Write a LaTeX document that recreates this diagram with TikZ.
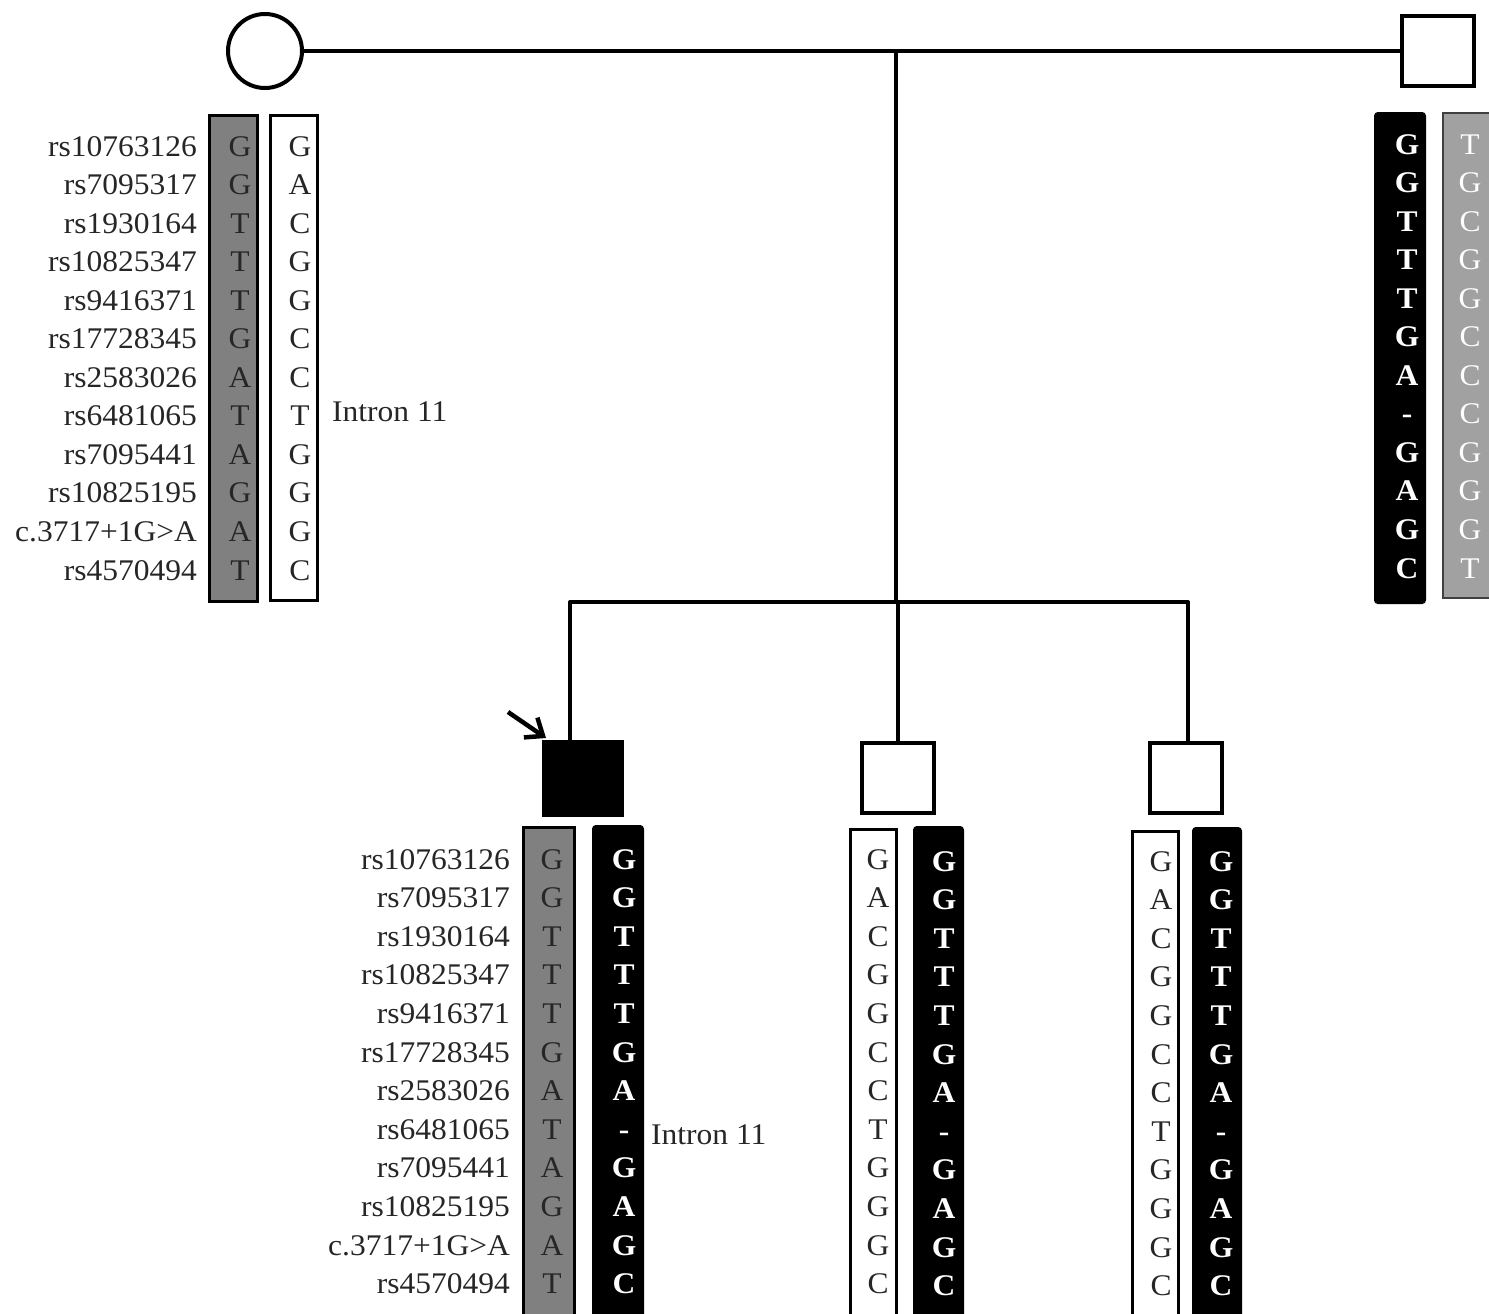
\documentclass[tikz,border=0pt]{standalone}
\usepackage{fontspec}
\setmainfont{Liberation Serif}[FakeStretch=1.05]
\usetikzlibrary{arrows.meta}
\begin{document}
\begin{tikzpicture}[x=1pt,y=-1pt,
  ln/.style={line width=3.5pt, line cap=round},
  person/.style={draw, line width=4pt, minimum width=72pt, minimum height=70pt, inner sep=0},
  lbl/.style={anchor=base east, font=\fontsize{30}{30}\selectfont, text=black!85, inner sep=0},
  let/.style={anchor=base, font=\fontsize{30}{30}\selectfont, text=black!85, inner sep=0},
  letw/.style={anchor=base, font=\fontsize{30}{30}\selectfont\bfseries, text=white, inner sep=0},
  letlw/.style={anchor=base, font=\fontsize{30}{30}\selectfont, text=white, inner sep=0},
  hbox/.style={line width=3pt, inner sep=0, anchor=north west}
]
\useasboundingbox (0,0) rectangle (1489,1314);
\fill[white] (0,0) rectangle (1489,1314);

% ---------- persons ----------
\node[person, circle, minimum size=74pt] (mo) at (265,51) {};
\node[person] (fa) at (1437.5,51) {};
\node[person, fill=black, minimum width=78pt, minimum height=73pt] (pr) at (582.5,778) {};
\node[person] (s2) at (897.5,777.5) {};
\node[person] (s3) at (1185.5,777.5) {};

\coordinate (mid) at (896,51);
\coordinate (sib) at (896,602);
\coordinate (lft) at (570,602);
\coordinate (rgt) at (1188,602);

\draw[ln] (mo.east) -- (fa.west);
\draw[ln] (mid) -- (sib);
\draw[ln] (lft) -- (rgt);
\draw[ln] (lft) -- (lft |- pr.north);
\draw[ln] (898,602) -- (s2.north -| 898,0);
\draw[ln] (rgt) -- (rgt |- s3.north);

% arrow to proband
\coordinate (arS) at (508,712);
\coordinate (arE) at (546,738);
\draw[line width=4.5pt, -{Straight Barb[length=15pt,width=24pt,line width=4.5pt]}] (arS) -- (arE);

% ---------- haplotype boxes ----------
% mother
\draw[hbox, fill=black!50] (209,115) rectangle (257,601);
\draw[hbox, fill=white] (270,115) rectangle (317,600);
% father
\draw[line width=2pt, fill=black, rounded corners=3pt] (1375,113) rectangle (1425,603);
\draw[line width=2pt, draw=black!75, fill=black!37] (1443,113) rectangle (1492,598);
% proband
\draw[hbox, fill=black!50] (523,827) rectangle (574,1320);
\draw[line width=2pt, fill=black, rounded corners=3pt] (593,826) rectangle (643,1320);
% sib2
\draw[hbox, fill=white] (850,829) rectangle (896,1320);
\draw[line width=2pt, fill=black, rounded corners=3pt] (914,827) rectangle (963,1320);
% sib3
\draw[hbox, fill=white] (1132,831) rectangle (1178,1320);
\draw[line width=2pt, fill=black, rounded corners=3pt] (1193,828) rectangle (1241,1320);

% ---------- labels ----------
\foreach \t [count=\i from 0] in {rs10763126,rs7095317,rs1930164,rs10825347,rs9416371,rs17728345,rs2583026,rs6481065,rs7095441,rs10825195,{c.3717+1G>A},rs4570494}{
  \node[lbl] (ml\i) at (197,145+38.55*\i+11) {\t};
  \node[lbl] (pl\i) at (510,858+38.6*\i+11) {\t};
}

% mother / proband first haplotype
\foreach \a [count=\i from 0] in {G,G,T,T,T,G,A,T,A,G,A,T}{
  \node[let] (ma\i) at (240,145+38.55*\i+11) {\a};
  \node[let] (pa\i) at (552,858+38.6*\i+11) {\a};
}
\foreach \a [count=\i from 0] in {G,A,C,G,G,C,C,T,G,G,G,C}{
  \node[let] (mb\i) at (300,145+38.55*\i+11) {\a};
  \node[let] (sa\i) at (878,858+38.6*\i+11) {\a};
  \node[let] (ta\i) at (1161,860+38.6*\i+11) {\a};
}
\foreach \a [count=\i from 0] in {G,G,T,T,T,G,A,-,G,A,G,C}{
  \node[letw] (fa\i) at (1407,143+38.55*\i+11) {\a};
  \node[letw] (pb\i) at (624,858+38.6*\i+11) {\a};
  \node[letw] (sb\i) at (944,860+38.6*\i+11) {\a};
  \node[letw] (tb\i) at (1221,860+38.6*\i+11) {\a};
}
\foreach \a [count=\i from 0] in {T,G,C,G,G,C,C,C,G,G,G,T}{
  \node[letlw] (fb\i) at (1470,143+38.55*\i+11) {\a};
}

\node[lbl, anchor=base west] (in1) at (332,421) {Intron 11};
\node[lbl, anchor=base west] (in2) at (651,1144) {Intron 11};
\end{tikzpicture}
\end{document}
